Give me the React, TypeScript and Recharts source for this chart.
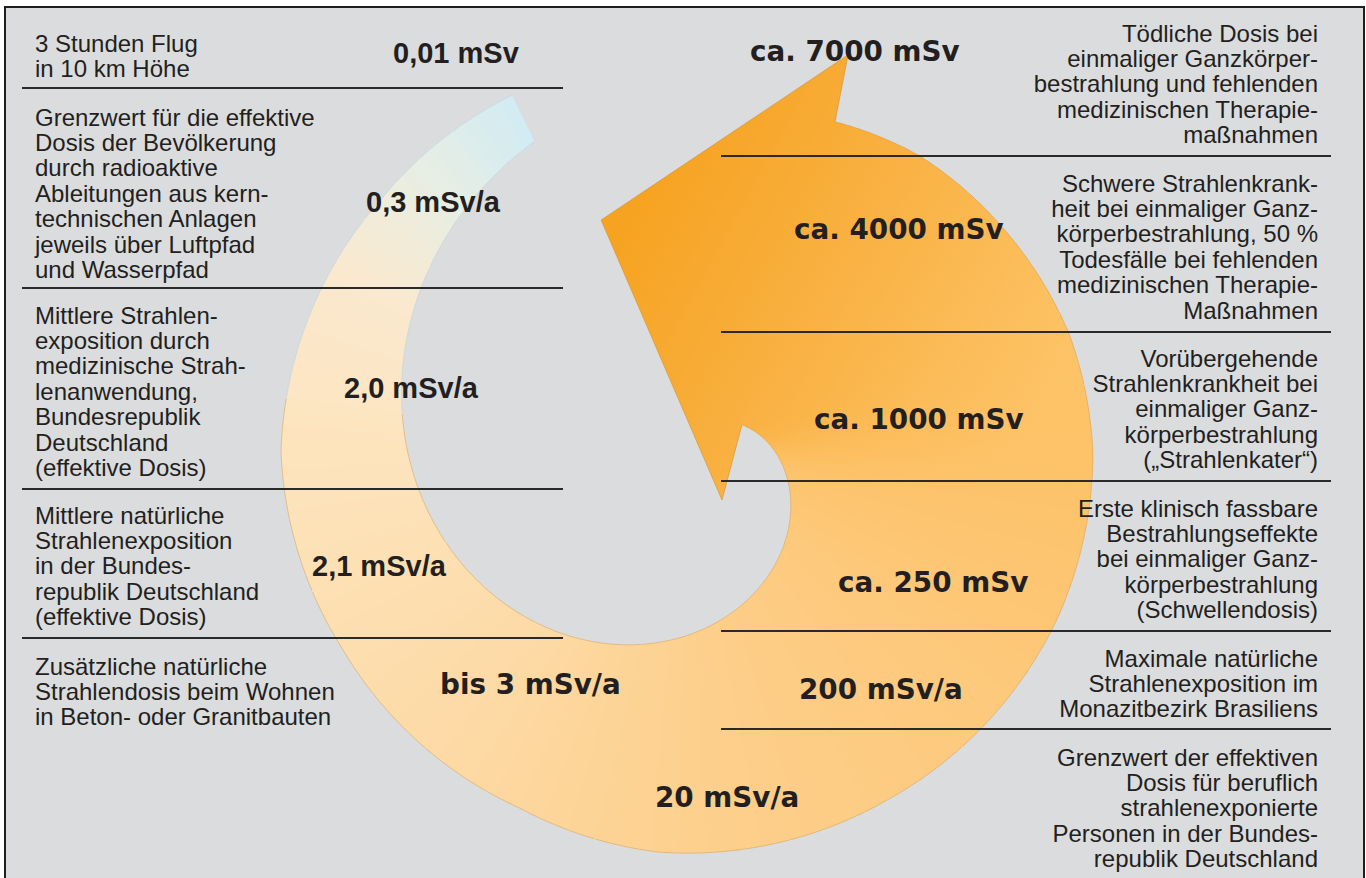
import React from 'react';
import { PieChart, Pie } from 'recharts';

// dose steps, from smallest to largest, following the spiral
const doseLabels = ['0,01 mSv', '0,3 mSv/a', '2,0 mSv/a', '2,1 mSv/a', 'bis 3 mSv/a', '20 mSv/a', '200 mSv/a', 'ca. 250 mSv', 'ca. 1000 mSv', 'ca. 4000 mSv', 'ca. 7000 mSv'];
const doseValues = [0.01, 0.3, 2.0, 2.1, 3, 20, 200, 250, 1000, 4000, 7000];

const leftNotes = [
   ['3 Stunden Flug', 'in 10 km Höhe'],
   ['Grenzwert für die effektive', 'Dosis der Bevölkerung', 'durch radioaktive', 'Ableitungen aus kern-', 'technischen Anlagen', 'jeweils über Luftpfad', 'und Wasserpfad'],
   ['Mittlere Strahlen-', 'exposition durch', 'medizinische Strah-', 'lenanwendung,', 'Bundesrepublik', 'Deutschland', '(effektive Dosis)'],
   ['Mittlere natürliche', 'Strahlenexposition', 'in der Bundes-', 'republik Deutschland', '(effektive Dosis)'],
   ['Zusätzliche natürliche', 'Strahlendosis beim Wohnen', 'in Beton- oder Granitbauten'],
];

const rightNotes = [
   ['Tödliche Dosis bei', 'einmaliger Ganzkörper-', 'bestrahlung und fehlenden', 'medizinischen Therapie-', 'maßnahmen'],
   ['Schwere Strahlenkrank-', 'heit bei einmaliger Ganz-', 'körperbestrahlung, 50 %', 'Todesfälle bei fehlenden', 'medizinischen Therapie-', 'Maßnahmen'],
   ['Vorübergehende', 'Strahlenkrankheit bei', 'einmaliger Ganz-', 'körperbestrahlung', '(„Strahlenkater“)'],
   ['Erste klinisch fassbare', 'Bestrahlungseffekte', 'bei einmaliger Ganz-', 'körperbestrahlung', '(Schwellendosis)'],
   ['Maximale natürliche', 'Strahlenexposition im', 'Monazitbezirk Brasiliens'],
   ['Grenzwert der effektiven', 'Dosis für beruflich', 'strahlenexponierte', 'Personen in der Bundes-', 'republik Deutschland'],
];

// layout (px)
const leftNoteY = [43, 117, 315, 515, 666];
const rightNoteY = [33, 183, 358, 508, 658, 757];
const leftRules = [88, 288, 489, 638];
const rightRules = [156, 332, 481, 631, 729];
const doseLabelX = [393, 366, 344, 312, 440, 655, 799, 838, 814, 794, 750];
const doseLabelY = [53, 202, 388, 566, 685, 798, 690, 583, 420, 230, 52];
const doseLabelHeavy = [false, false, false, false, true, true, true, true, true, true, true];

// spiral geometry
const CX = 686;
const CY = 452;
const SWEEP_START = -244;
const SWEEP_END = 66;
const RAD = Math.PI / 180;
const outerAnchors: [number, number][] = [
   [-244, 397], [-220, 396], [-180, 405], [-150, 396], [-115, 393], [-94, 401], [-60, 402],
   [-24, 407], [0, 407], [17, 401], [34, 389], [52, 377], [66, 362],
];
const colorStops: [number, string][] = [
   [-244, '#d2ebf4'], [-228, '#e6eee4'], [-208, '#fae9cf'], [-180, '#fde4bd'], [-130, '#fddaa6'],
   [-90, '#fdd08e'], [-40, '#fdc97c'], [0, '#fdc268'], [35, '#fbb853'], [66, '#f8ab30'],
];
// blend from angle colours into the head gradient over this angle range
const BLEND_FROM = -15;
const BLEND_TO = 22;
// arrow head corners: [radius, angle]
const arrowHead: [number, number][] = [[362, 65.7], [429, 67.8], [247, 110.1], [60, -53.1], [62, 25.7]];

const pieData = doseLabels.map((label, i) => ({ label, dose: doseValues[i], span: 1 }));

function interp(anchors: [number, number][], x: number) {
   if (x <= anchors[0][0]) return anchors[0][1];
   for (let i = 1; i < anchors.length; i++) {
      if (x <= anchors[i][0]) {
         const [x0, y0] = anchors[i - 1];
         const [x1, y1] = anchors[i];
         return y0 + (y1 - y0) * (x - x0) / (x1 - x0);
      }
   }
   return anchors[anchors.length - 1][1];
}

const rOuter = (a: number) => interp(outerAnchors, a);
const rInner = (a: number) => Math.max(14, 62 + 1.05 * (26 - a));

function hexRgb(h: string) {
   return [1, 3, 5].map(i => parseInt(h.slice(i, i + 2), 16));
}

function colorAt(a: number) {
   if (a <= colorStops[0][0]) return colorStops[0][1];
   for (let i = 1; i < colorStops.length; i++) {
      if (a <= colorStops[i][0]) {
         const t = (a - colorStops[i - 1][0]) / (colorStops[i][0] - colorStops[i - 1][0]);
         const c0 = hexRgb(colorStops[i - 1][1]);
         const c1 = hexRgb(colorStops[i][1]);
         return `rgb(${c0.map((v, k) => Math.round(v + (c1[k] - v) * t)).join(',')})`;
      }
   }
   return colorStops[colorStops.length - 1][1];
}

function blendAt(a: number) {
   const t = Math.min(1, Math.max(0, (a - BLEND_FROM) / (BLEND_TO - BLEND_FROM)));
   return t * t * (3 - 2 * t);
}

const pt = (cx: number, cy: number, r: number, a: number) =>
   `${(cx + r * Math.cos(-a * RAD)).toFixed(2)},${(cy + r * Math.sin(-a * RAD)).toFixed(2)}`;

function SpiralPiece(props: any) {
   const { cx, cy, startAngle, endAngle } = props;
   const a0 = Math.min(startAngle, endAngle);
   const a1 = Math.max(startAngle, endAngle);
   const isLast = a1 >= SWEEP_END - 0.01;
   const gid = `flow${Math.round(a0 * 10)}`;
   const step = 2;
   const bands: React.ReactNode[] = [];
   for (let a = a0; a < a1 - 1e-6; a += step) {
      const b = Math.min(a + step, a1);
      const bx = isLast && b >= a1 ? b : b + 0.6;
      const pts: string[] = [];
      for (let k = 0; k <= 4; k++) {
         const t = a + (bx - a) * k / 4;
         pts.push(pt(cx, cy, rOuter(t), t));
      }
      for (let k = 4; k >= 0; k--) {
         const t = a + (bx - a) * k / 4;
         pts.push(pt(cx, cy, rInner(t), t));
      }
      const w = blendAt((a + b) / 2);
      const poly = pts.join(' ');
      bands.push(<polygon key={'s' + a.toFixed(2)} points={poly} fill={colorAt((a + b) / 2)} />);
      if (w > 0) bands.push(<polygon key={'g' + a.toFixed(2)} points={poly} fill={`url(#${gid})`} fillOpacity={w} />);
   }
   const outerEdge: string[] = [];
   const innerEdge: string[] = [];
   const innerStop = isLast ? Math.min(a1, 25.7) : a1;
   for (let a = a0; a <= a1 + 1e-6; a += 1) outerEdge.push(pt(cx, cy, rOuter(a), a));
   for (let a = a0; a <= innerStop + 1e-6; a += 1) innerEdge.push(pt(cx, cy, rInner(a), a));
   const edge = a0 < -200 ? '#b9d3db' : '#d6a25a';
   const headPts = arrowHead.map(([r, a]) => pt(cx, cy, r, a)).join(' ');

   return (
      <g>
         <defs>
            <linearGradient id={gid} gradientUnits="userSpaceOnUse" x1={cx - 46} y1={cy - 252} x2={cx + 354} y2={cy - 32}>
               <stop offset="0" stopColor="#f6a321" />
               <stop offset="0.45" stopColor="#f9b142" />
               <stop offset="1" stopColor="#fdc468" />
            </linearGradient>
         </defs>
         {bands}
         <polyline points={outerEdge.join(' ')} fill="none" stroke={edge} strokeOpacity={0.55} strokeWidth={1} />
         <polyline points={innerEdge.join(' ')} fill="none" stroke={edge} strokeOpacity={0.55} strokeWidth={1} />
         {isLast && (
            <g>
               <polygon points={headPts} fill={`url(#${gid})`} />
               <polyline points={headPts} fill="none" stroke="#d48f25" strokeOpacity={0.6} strokeWidth={1} />
            </g>
         )}
      </g>
   );
}

const noteFont = '"Liberation Sans", Arial, sans-serif';
const LINE = 25.4;

export default function App() {
   return (
      <div style={{ position: 'absolute', left: 0, top: 0, width: 1366, height: 878, overflow: 'hidden', background: '#fff', fontFamily: noteFont }}>
         <div style={{ position: 'absolute', left: 4, top: 6, width: 1357, height: 900, border: '2px solid #1e1e1e', background: '#dbdcde' }} />
         <div style={{ position: 'absolute', left: 0, top: 0 }}>
            <PieChart width={1366} height={878} margin={{ top: 0, right: 0, bottom: 0, left: 0 }}>
               <Pie
                  data={pieData}
                  dataKey="span"
                  nameKey="label"
                  cx={CX}
                  cy={CY}
                  startAngle={SWEEP_START}
                  endAngle={SWEEP_END}
                  innerRadius={60}
                  outerRadius={400}
                  stroke="none"
                  isAnimationActive={false}
                  shape={SpiralPiece}
                  activeShape={SpiralPiece}
                  inactiveShape={SpiralPiece}
               />
            </PieChart>
         </div>

         {leftRules.map(y => (
            <div key={'lr' + y} style={{ position: 'absolute', left: 22, top: y - 1, width: 541, height: 2, background: '#2a2a2a' }} />
         ))}
         {rightRules.map(y => (
            <div key={'rr' + y} style={{ position: 'absolute', left: 721, top: y - 1, width: 610, height: 2, background: '#2a2a2a' }} />
         ))}

         {leftNotes.map((lines, i) => (
            <div key={'ln' + i} style={{ position: 'absolute', left: 35, top: leftNoteY[i] - 12.4, fontSize: 24, lineHeight: LINE + 'px', color: '#231f20', whiteSpace: 'nowrap' }}>
               {lines.map((l, k) => <div key={k}>{l}</div>)}
            </div>
         ))}
         {rightNotes.map((lines, i) => (
            <div key={'rn' + i} style={{ position: 'absolute', right: 48, top: rightNoteY[i] - 12.4, fontSize: 24, lineHeight: LINE + 'px', color: '#231f20', textAlign: 'right', whiteSpace: 'nowrap' }}>
               {lines.map((l, k) => <div key={k}>{l}</div>)}
            </div>
         ))}

         {doseLabels.map((label, i) => (
            <div
               key={'dl' + i}
               style={{
                  position: 'absolute',
                  left: doseLabelX[i],
                  top: doseLabelY[i] - 17,
                  lineHeight: '34px',
                  fontWeight: 'bold',
                  whiteSpace: 'nowrap',
                  color: '#231f20',
                  fontFamily: doseLabelHeavy[i] ? '"DejaVu Sans", sans-serif' : noteFont,
                  fontSize: doseLabelHeavy[i] ? 27.8 : 29,
               }}
            >
               {label}
            </div>
         ))}
      </div>
   );
}
